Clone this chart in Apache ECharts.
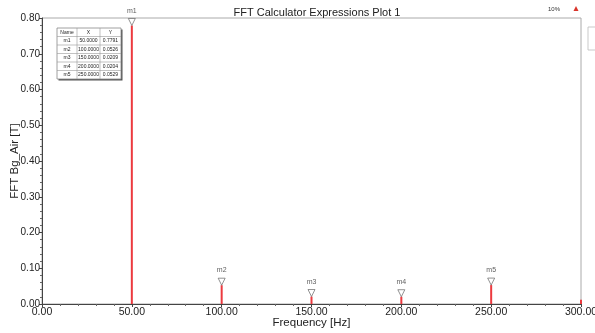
<!DOCTYPE html>
<html>
<head>
<meta charset="utf-8">
<script src="https://cdn.jsdelivr.net/npm/echarts@6/dist/echarts.min.js"></script>
<style>
	html,body{margin:0;padding:0;background:#fff;}
	#main{width:595px;height:333px;}
</style>
</head>
<body>
<div id="main"></div>
<script>
// spectrum spikes
var freqs = [50, 100, 150, 200, 250, 300];
var amps = [0.7791, 0.0526, 0.0209, 0.0204, 0.0529, 0.012];

// markers
var markNames = ['m1', 'm2', 'm3', 'm4', 'm5'];
var markX = [50, 100, 150, 200, 250];
var markY = [0.7791, 0.0526, 0.0209, 0.0204, 0.0529];

var yTicks = [0, 0.1, 0.2, 0.3, 0.4, 0.5, 0.6, 0.7, 0.8];

var fnt = "'Liberation Sans', Arial, sans-serif";

var myChart = echarts.init(document.getElementById('main'));

var barData = [];
for (var i = 0; i < freqs.length; i++) {
	barData.push([freqs[i], amps[i]]);
}
var markData = [];
for (var i = 0; i < markNames.length; i++) {
	markData.push({name: markNames[i], value: [markX[i], markY[i]]});
}

// marker table
var tbl = [];
var tx = 57, ty = 28, rowH = 8.5;
var colX = [57, 77, 100, 121];
var rows = [['Name', 'X', 'Y']];
for (var i = 0; i < markNames.length; i++) {
	rows.push([markNames[i], markX[i].toFixed(4), markY[i].toFixed(4)]);
}
var tblH = rows.length * rowH;
tbl.push({type: 'rect', shape: {x: tx + 1.5, y: ty + 1.5, width: colX[3] - tx, height: tblH}, style: {fill: '#555'}});
tbl.push({type: 'rect', shape: {x: tx, y: ty, width: colX[3] - tx, height: tblH}, style: {fill: '#fff', stroke: '#888', lineWidth: 0.8}});
for (var r = 1; r < rows.length; r++) {
	tbl.push({type: 'line', shape: {x1: tx, y1: ty + r * rowH, x2: colX[3], y2: ty + r * rowH}, style: {stroke: '#999', lineWidth: 0.6}});
}
for (var c = 1; c < 3; c++) {
	tbl.push({type: 'line', shape: {x1: colX[c], y1: ty, x2: colX[c], y2: ty + tblH}, style: {stroke: '#999', lineWidth: 0.6}});
}
for (var r = 0; r < rows.length; r++) {
	for (var c = 0; c < 3; c++) {
		tbl.push({type: 'text', x: (colX[c] + colX[c + 1]) / 2, y: ty + r * rowH + rowH / 2,
			style: {text: rows[r][c], font: '5px ' + fnt, fill: '#222', align: 'center', verticalAlign: 'middle'}});
	}
}
tbl.push({type: 'text', x: 548, y: 9, style: {text: '10%', font: '6px ' + fnt, fill: '#333', verticalAlign: 'middle'}});
tbl.push({type: 'polygon', shape: {points: [[576, 6], [573.5, 11], [578.5, 11]]}, style: {fill: '#d9342b'}});
tbl.push({type: 'rect', shape: {x: 588, y: 27, width: 10, height: 23}, style: {fill: '#fff', stroke: '#bbb', lineWidth: 0.8}});

myChart.setOption({
	animation: false,
	title: {
		text: 'FFT Calculator Expressions Plot 1',
		left: 312,
		textAlign: 'center',
		top: 2,
		textStyle: {fontFamily: fnt, fontSize: 11, fontWeight: 'normal', color: '#222'}
	},
	grid: {left: 42, right: 14, top: 18, bottom: 29, show: true, borderColor: '#aaa', borderWidth: 1,
		containLabel: false, outerBoundsMode: 'none'},
	xAxis: {
		type: 'value',
		min: 0, max: 300, interval: 50,
		name: 'Frequency [Hz]',
		nameLocation: 'middle',
		nameGap: 13,
		nameMoveOverlap: false,
		nameTextStyle: {fontFamily: fnt, fontSize: 11.5, color: '#222'},
		axisLine: {lineStyle: {color: '#444'}},
		axisTick: {length: 3, lineStyle: {color: '#444'}},
		minorTick: {show: true, splitNumber: 5, length: 2, lineStyle: {color: '#666'}},
		axisLabel: {fontFamily: fnt, fontSize: 10.5, color: '#222', margin: 3,
			formatter: function (v) { return v.toFixed(2); }},
		splitLine: {show: false}
	},
	yAxis: {
		type: 'value',
		min: yTicks[0], max: yTicks[yTicks.length - 1], interval: 0.1,
		name: 'FFT Bg_Air [T]',
		nameLocation: 'middle',
		nameGap: 21,
		nameMoveOverlap: false,
		nameTextStyle: {fontFamily: fnt, fontSize: 11.5, color: '#222'},
		axisLine: {show: true, lineStyle: {color: '#444'}},
		axisTick: {show: true, length: 3, lineStyle: {color: '#444'}},
		minorTick: {show: true, splitNumber: 5, length: 2, lineStyle: {color: '#666'}},
		axisLabel: {fontFamily: fnt, fontSize: 10, color: '#222', margin: 2,
			formatter: function (v) { return v.toFixed(2); }},
		splitLine: {show: false}
	},
	series: [
		{
			type: 'bar',
			data: barData,
			barWidth: 2,
			itemStyle: {color: '#ec3a3f'}
		},
		{
			type: 'scatter',
			data: markData,
			symbol: 'triangle',
			symbolRotate: 180,
			symbolSize: [7, 7],
			symbolOffset: [0, -3.5],
			itemStyle: {color: '#fff', borderColor: '#555', borderWidth: 0.8},
			label: {show: true, position: 'top', distance: 1, offset: [0, -3], formatter: '{b}',
				fontFamily: fnt, fontSize: 7, color: '#333'},
			z: 5
		}
	],
	graphic: tbl
});
</script>
</body>
</html>
